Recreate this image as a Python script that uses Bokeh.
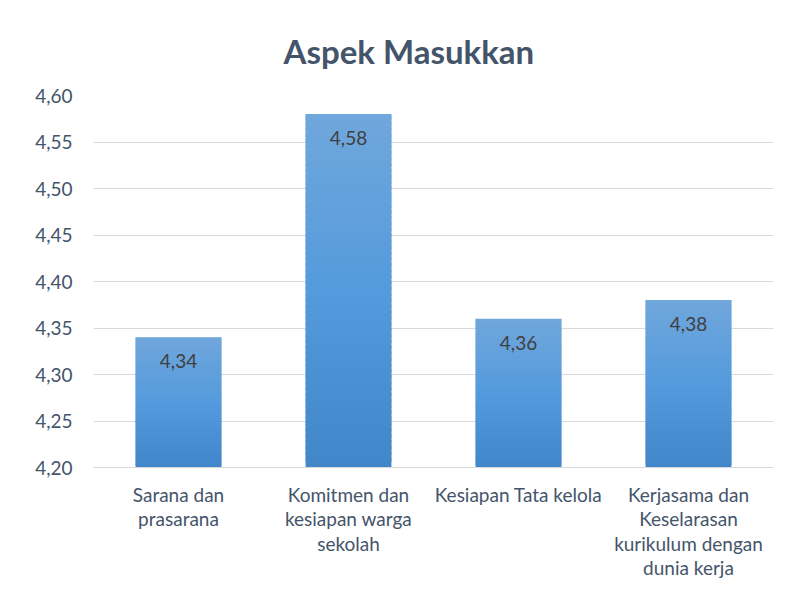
from bokeh.plotting import figure
from bokeh.models import FactorRange, Range1d, FixedTicker, CustomJSTickFormatter, ColumnDataSource
from bokeh.embed import file_html
from bokeh.resources import INLINE
from bokeh.core.properties import value

categories = ["Sarana dan\nprasarana", "Komitmen dan\nkesiapan warga\nsekolah",
              "Kesiapan Tata kelola", "Kerjasama dan\nKeselarasan\nkurikulum dengan\ndunia kerja"]
scores = [4.34, 4.58, 4.36, 4.38]
score_labels = ["4,34", "4,58", "4,36", "4,38"]
y_ticks = [4.20, 4.25, 4.30, 4.35, 4.40, 4.45, 4.50, 4.55, 4.60]

FONT = "Lato"
BASE = 4.20
TOP = 4.60

p = figure(x_range=FactorRange(*categories), y_range=Range1d(BASE, TOP),
           frame_width=680, frame_height=372, output_backend="svg", toolbar_location=None,
           min_border_left=93, min_border_right=24, min_border_top=95, min_border_bottom=116)
p.outline_line_color = None
p.background_fill_color = "white"
p.border_fill_color = "white"

def lerp(c1, c2, t):
    return tuple(int(round(a + (b - a) * t)) for a, b in zip(c1, c2))

bottom_c = (66, 134, 202)
mid_c = (84, 154, 220)
top_c = (112, 167, 220)

xs, bots, tops, cols = [], [], [], []
N = 60
for cat, v in zip(categories, scores):
    step = (v - BASE) / N
    for i in range(N):
        b = BASE + step * i
        t = min(v, b + step * 1.8)
        f = (i + 0.5) / N
        if f < 0.5:
            c = lerp(bottom_c, mid_c, f / 0.5)
        else:
            c = lerp(mid_c, top_c, (f - 0.5) / 0.5)
        xs.append(cat); bots.append(b); tops.append(t)
        cols.append("#%02x%02x%02x" % c)

p.vbar(x=xs, bottom=bots, top=tops, width=0.505, fill_color=cols, line_color=None)

src = ColumnDataSource(dict(x=categories, y=scores, t=score_labels))
p.text(x="x", y="y", text="t", source=src, y_offset=24, text_align="center", text_baseline="middle",
       text_font=value(FONT), text_font_size="19px", text_color="#404040")

p.xgrid.grid_line_color = None
p.ygrid.grid_line_color = "#D9D9D9"
p.ygrid.grid_line_width = 1
p.ygrid.ticker = FixedTicker(ticks=y_ticks)

p.yaxis.ticker = FixedTicker(ticks=y_ticks)
p.yaxis.formatter = CustomJSTickFormatter(code="return tick.toFixed(2).replace('.', ',');")
p.yaxis.axis_line_color = None
p.yaxis.major_tick_line_color = None
p.yaxis.minor_tick_line_color = None
p.yaxis.major_label_text_font = FONT
p.yaxis.major_label_text_font_size = "19px"
p.yaxis.major_label_text_color = "#44546A"
p.yaxis.major_label_standoff = 15

p.xaxis.axis_line_color = "#D9D9D9"
p.xaxis.major_tick_line_color = None
p.xaxis.minor_tick_line_color = None
p.xaxis.major_label_text_font = FONT
p.xaxis.major_label_text_font_size = "19px"
p.xaxis.major_label_text_color = "#44546A"
p.xaxis.major_label_text_line_height = 1.07
p.xaxis.major_label_standoff = 9

p.title.text = "Aspek Masukkan"
p.title.align = "left"
p.title.offset = 190
p.title.text_font = FONT
p.title.text_font_size = "33px"
p.title.text_font_style = "bold"
p.title.text_color = "#44546A"
p.title.standoff = 49

open("out.html", "w").write(file_html(p, INLINE))
